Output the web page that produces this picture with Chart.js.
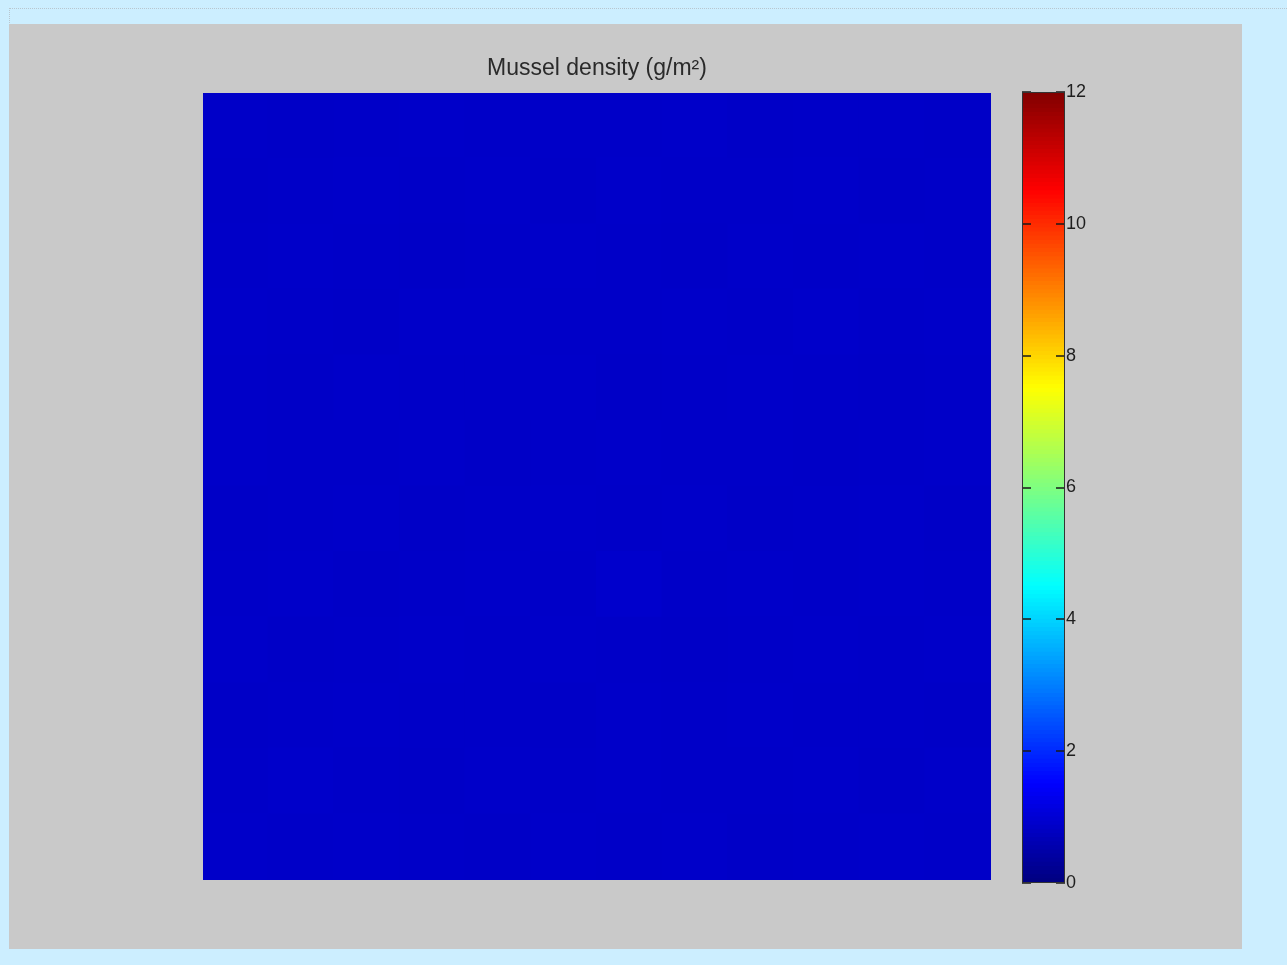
<!DOCTYPE html>
<html>
<head>
<meta charset="utf-8">
<script src="https://cdn.jsdelivr.net/npm/chart.js@4/dist/chart.umd.min.js"></script>
<style>
  body { margin: 0; background: #cceeff; width: 1287px; height: 965px; overflow: hidden; position: relative; font-family: "Liberation Sans", Arial, sans-serif; }
  #frame { position: absolute; left: 9px; top: 8px; right: 0; height: 16px; border-top: 1px dotted #b9c6cf; border-left: 1px dotted #b9c6cf; }
  #panel { position: absolute; left: 9px; top: 24px; width: 1233px; height: 925px; background: #c9c9c9; }
  #map { position: absolute; left: 200px; top: 40px; }
  #bar { position: absolute; left: 1022px; top: 80px; }
</style>
</head>
<body>
<div id="frame"></div>
<div id="panel"></div>
<canvas id="map" width="791" height="840"></canvas>
<canvas id="bar" width="80" height="815"></canvas>
<script>
// mussel density grid, g/m2 (rows bottom -> top), almost flat everywhere
var density = [
  [0.86, 0.85, 0.87, 0.85, 0.84, 0.86, 0.85, 0.86, 0.84, 0.85, 0.86, 0.85],
  [0.85, 0.88, 0.85, 0.84, 0.86, 0.85, 0.87, 0.85, 0.85, 0.86, 0.84, 0.86],
  [0.84, 0.85, 0.86, 0.85, 0.85, 0.84, 0.86, 0.85, 0.87, 0.85, 0.85, 0.84],
  [0.86, 0.84, 0.85, 0.87, 0.85, 0.86, 0.85, 0.84, 0.85, 0.86, 0.85, 0.86],
  [0.85, 0.86, 0.84, 0.85, 0.86, 0.85, 0.90, 0.85, 0.86, 0.85, 0.87, 0.85],
  [0.84, 0.85, 0.86, 0.84, 0.85, 0.87, 0.85, 0.86, 0.84, 0.85, 0.86, 0.84],
  [0.86, 0.85, 0.85, 0.86, 0.84, 0.85, 0.86, 0.85, 0.85, 0.84, 0.85, 0.86],
  [0.85, 0.84, 0.86, 0.85, 0.85, 0.86, 0.84, 0.85, 0.86, 0.85, 0.84, 0.85],
  [0.86, 0.85, 0.84, 0.86, 0.87, 0.85, 0.85, 0.86, 0.85, 0.88, 0.85, 0.86],
  [0.85, 0.86, 0.85, 0.84, 0.85, 0.86, 0.85, 0.84, 0.86, 0.85, 0.86, 0.85],
  [0.84, 0.85, 0.86, 0.85, 0.86, 0.84, 0.86, 0.85, 0.85, 0.86, 0.84, 0.85],
  [0.85, 0.84, 0.85, 0.86, 0.85, 0.85, 0.85, 0.86, 0.84, 0.85, 0.85, 0.84]
];
var colorMin = 0;
var colorMax = 12;
var colorTicks = [0, 2, 4, 6, 8, 10, 12];
var nColors = 192;

function jet(t) {
  var c = function (v) { return Math.round(255 * Math.max(0, Math.min(1, v))); };
  return "rgb(" + c(1.5 - Math.abs(4 * t - 3)) + "," + c(1.5 - Math.abs(4 * t - 2)) + "," + c(1.5 - Math.abs(4 * t - 1)) + ")";
}
function toColor(v) {
  return jet((v - colorMin) / (colorMax - colorMin));
}

var cols = [];
for (var i = 0; i < density[0].length; i++) cols.push(i + 1);

var rows = [];
for (var r = 0; r < density.length; r++) {
  rows.push({
    data: density[r].map(function () { return 1; }),
    backgroundColor: density[r].map(toColor),
    borderWidth: 0,
    inflateAmount: 1,
    barPercentage: 1,
    categoryPercentage: 1
  });
}

// fill under the cells so no seams show between them
var underlay = {
  id: "underlay",
  beforeDatasetsDraw: function (chart) {
    var a = chart.chartArea;
    chart.ctx.save();
    chart.ctx.fillStyle = toColor(0.85);
    chart.ctx.fillRect(a.left, a.top, a.right - a.left, a.bottom - a.top);
    chart.ctx.restore();
  }
};

new Chart(document.getElementById("map"), {
  type: "bar",
  data: { labels: cols, datasets: rows },
  options: {
    responsive: false,
    animation: false,
    devicePixelRatio: 1,
    layout: { padding: { left: 3, right: 0, top: 0, bottom: 0 } },
    scales: {
      x: { display: false, stacked: true },
      y: { display: false, stacked: true, min: 0, max: density.length }
    },
    plugins: {
      legend: { display: false },
      tooltip: { enabled: false },
      title: {
        display: true,
        text: "Mussel density (g/m²)",
        color: "#2a2a2a",
        font: { family: "Liberation Sans", size: 23, weight: "normal", lineHeight: 1 },
        padding: { top: 17, bottom: 13 }
      }
    }
  },
  plugins: [underlay]
});

// colour bar
var bands = [];
var step = (colorMax - colorMin) / nColors;
for (var k = 0; k < nColors; k++) {
  bands.push({
    data: [step],
    backgroundColor: jet((k + 0.5) / nColors),
    borderWidth: 0,
    inflateAmount: 0.6,
    barPercentage: 1,
    categoryPercentage: 1
  });
}

var tickMarks = {
  id: "tickMarks",
  afterDatasetsDraw: function (chart) {
    var ctx = chart.ctx;
    var a = chart.chartArea;
    var y = chart.scales.y;
    ctx.save();
    ctx.strokeStyle = "#1a1a1a";
    ctx.lineWidth = 1.5;
    colorTicks.forEach(function (v) {
      var py = Math.round(y.getPixelForValue(v));
      ctx.beginPath();
      ctx.moveTo(a.left, py); ctx.lineTo(a.left + 9, py);
      ctx.moveTo(a.right - 9, py); ctx.lineTo(a.right, py);
      ctx.stroke();
    });
    ctx.lineWidth = 1;
    ctx.strokeStyle = "#333";
    ctx.strokeRect(a.left + 0.5, a.top + 0.5, a.right - a.left - 1, a.bottom - a.top - 1);
    ctx.restore();
  }
};

new Chart(document.getElementById("bar"), {
  type: "bar",
  data: { labels: [""], datasets: bands },
  options: {
    responsive: false,
    animation: false,
    devicePixelRatio: 1,
    layout: { padding: { top: 12, bottom: 12, left: 0, right: 0 } },
    scales: {
      x: { display: false, stacked: true },
      y: {
        position: "right",
        stacked: true,
        min: colorMin,
        max: colorMax,
        afterFit: function (s) { s.width = 37; },
        afterBuildTicks: function (s) { s.ticks = colorTicks.map(function (v) { return { value: v }; }); },
        grid: { display: false, drawTicks: false },
        border: { display: false },
        ticks: { padding: 1, color: "#1e1e1e", font: { family: "Liberation Sans", size: 18 } }
      }
    },
    plugins: { legend: { display: false }, tooltip: { enabled: false } }
  },
  plugins: [tickMarks]
});
</script>
</body>
</html>
